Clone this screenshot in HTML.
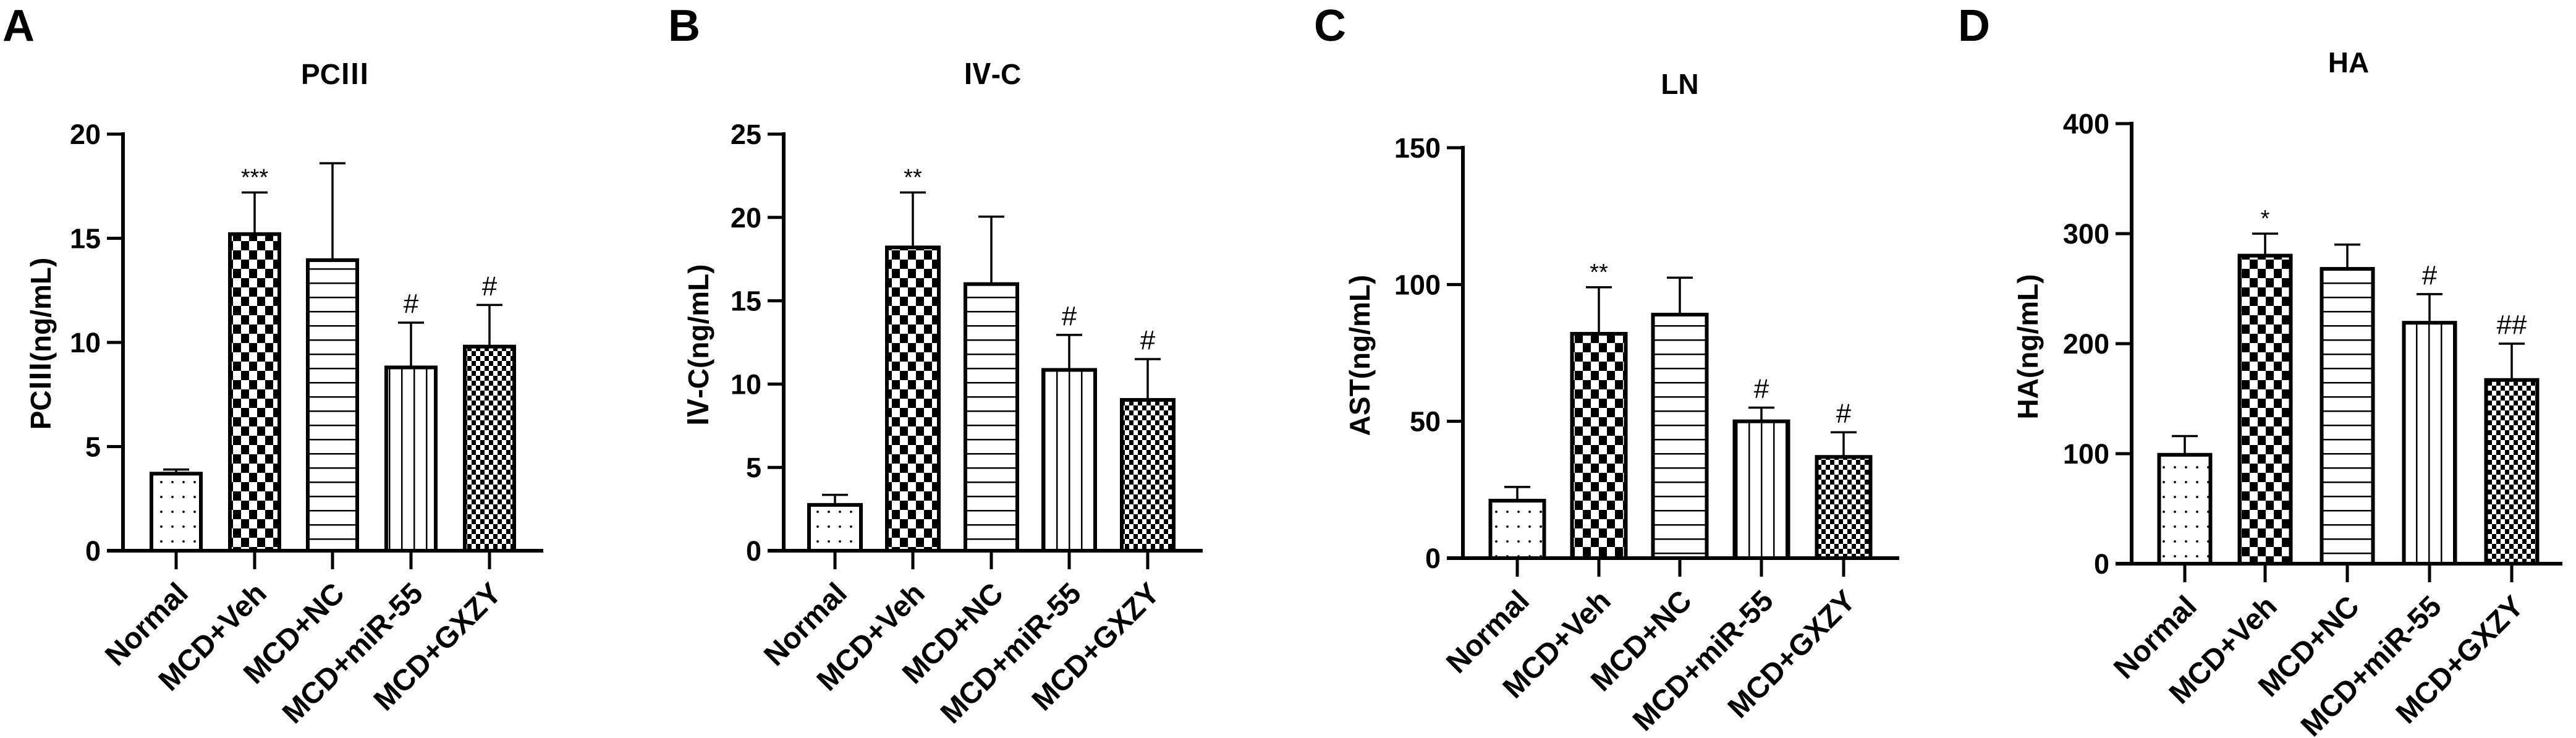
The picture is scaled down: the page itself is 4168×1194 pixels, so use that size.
<!DOCTYPE html>
<html><head><meta charset="utf-8">
<style>
html,body{margin:0;padding:0;background:#fff;}
svg{display:block;}
text{font-family:"Liberation Sans","Noto Sans CJK SC",sans-serif;}
</style></head>
<body>
<svg id="fig" width="4168" height="1194" viewBox="0 0 4168 1194" xmlns="http://www.w3.org/2000/svg">
<defs>
<pattern id="p-dots" width="18" height="24" patternUnits="userSpaceOnUse"><rect width="18" height="24" fill="#fff"/><circle cx="9" cy="12" r="1.9" fill="#000"/></pattern>
<pattern id="p-check" width="26" height="30" patternUnits="userSpaceOnUse"><rect width="26" height="30" fill="#fff"/><rect width="13" height="15" fill="#000"/><rect x="13" y="15" width="13" height="15" fill="#000"/></pattern>
<pattern id="p-hline" width="20" height="23" patternUnits="userSpaceOnUse"><rect width="20" height="23" fill="#fff"/><rect y="20" width="20" height="2.5" fill="#000"/></pattern>
<pattern id="p-vline" width="20" height="20" patternUnits="userSpaceOnUse"><rect width="20" height="20" fill="#fff"/><rect x="9" width="2.5" height="20" fill="#000"/></pattern>
<pattern id="p-fine" width="14" height="16" patternUnits="userSpaceOnUse"><rect width="14" height="16" fill="#fff"/><rect width="7" height="8" fill="#000"/><rect x="7" y="8" width="7" height="8" fill="#000"/></pattern>
</defs>
</svg>
<script>
const categories = ["Normal","MCD+Veh","MCD+NC","MCD+miR-55","MCD+GXZY"];
const aMeans = [3.7,15.2,13.95,8.8,9.8];
const aErrTop = [3.9,17.2,18.6,10.95,11.8];
const aSig = ["","***","","#","#"];
const aTicks = [0,5,10,15,20];
const bMeans = [2.75,18.2,16,10.85,9.05];
const bErrTop = [3.35,21.5,20.05,12.95,11.5];
const bSig = ["","**","","#","#"];
const bTicks = [0,5,10,15,20,25];
const cMeans = [21,82,89,50,37];
const cErrTop = [26,99,102.5,55,46];
const cSig = ["","**","","#","#"];
const cTicks = [0,50,100,150];
const dMeans = [99,280,268,219,167];
const dErrTop = [116,300,290,245,200];
const dSig = ["","*","","#","##"];
const dTicks = [0,100,200,300,400];

const patterns = ["url(#p-dots)","url(#p-check)","url(#p-hline)","url(#p-vline)","url(#p-fine)"];
const svg = document.getElementById('fig');
const NS = "http://www.w3.org/2000/svg";
function mk(tag, attrs, txt){
  const e = document.createElementNS(NS, tag);
  for (const k in attrs) e.setAttribute(k, attrs[k]);
  if (txt !== undefined) e.textContent = txt;
  svg.appendChild(e);
  return e;
}

const panels = [
  {id:'a', letter:'A', lx:4, title:'PCⅢ', tx:542, ty:136, ylabel:'PCⅢ(ng/mL)', ylx:70, yly:556,
   ax:199, y0:891, yTop:217, xEnd:879, centers:[285,412,538,665,792], bw:80,
   means:aMeans, err:aErrTop, sig:aSig, ticks:aTicks},
  {id:'b', letter:'B', lx:1081, title:'Ⅳ-C', tx:1605, ty:136, ylabel:'Ⅳ-C(ng/mL)', ylx:1134, yly:559,
   ax:1268, y0:891, yTop:217, xEnd:1946, centers:[1351,1477,1604,1730,1857], bw:84,
   means:bMeans, err:bErrTop, sig:bSig, ticks:bTicks},
  {id:'c', letter:'C', lx:2126, title:'LN', tx:2718, ty:152, ylabel:'AST(ng/mL)', ylx:2204, yly:575,
   ax:2367, y0:903, yTop:239, xEnd:3073, centers:[2455,2587,2718,2850,2983], bw:87,
   means:cMeans, err:cErrTop, sig:cSig, ticks:cTicks},
  {id:'d', letter:'D', lx:3168, title:'HA', tx:3800, ty:117, ylabel:'HA(ng/mL)', ylx:3285, yly:561,
   ax:3449, y0:912, yTop:200, xEnd:4146, centers:[3535,3665,3798,3931,4064], bw:83,
   means:dMeans, err:dErrTop, sig:dSig, ticks:dTicks}
];

panels.forEach(p => {
  const tmax = p.ticks[p.ticks.length-1];
  const ys = v => p.y0 - (v / tmax) * (p.y0 - p.yTop);
  let e;
  e = mk('text', {x:p.lx, y:66, 'font-size':72, 'font-weight':'bold', fill:'#000'}, p.letter);
  
  
  e = mk('text', {x:p.tx, y:p.ty, 'font-size':46, 'font-weight':'bold', 'text-anchor':'middle', fill:'#000'}, p.title);
  
  
  e = mk('text', {x:0, y:0, 'font-size':46, 'font-weight':'bold', 'text-anchor':'middle', 'dominant-baseline':'middle', fill:'#000', transform:`translate(${p.ylx},${p.yly}) rotate(-90)`}, p.ylabel);
  
  

  p.means.forEach((v, i) => {
    const cx = p.centers[i];
    const top = ys(v);
    const et = ys(p.err[i]);
    let l = mk('line', {x1:cx, y1:top, x2:cx, y2:et, stroke:'#000', 'stroke-width':3.5});
    
    
    l = mk('line', {x1:cx-21, y1:et, x2:cx+21, y2:et, stroke:'#000', 'stroke-width':3.5});
    
    
    const r = mk('rect', {x:cx - p.bw/2, y:top, width:p.bw, height:p.y0 - top, fill:patterns[i], stroke:'#000', 'stroke-width':6});
    
    
    if (p.sig[i]) {
      const star = p.sig[i][0] === '*';
      const s = mk('text', {x:cx, y:et - (star ? 12 : 16), 'font-size':star ? 38 : 44, 'text-anchor':'middle', fill:'#000'}, p.sig[i]);
      
      
    }
    const tk = mk('line', {x1:cx, y1:p.y0, x2:cx, y2:p.y0+30, stroke:'#000', 'stroke-width':5});
    
    
    const lab = mk('text', {x:0, y:0, 'font-size':48, 'font-weight':'bold', 'text-anchor':'end', fill:'#000', transform:`translate(${cx+22},${p.y0+72}) rotate(-45)`}, categories[i]);
    
    
  });

  e = mk('line', {x1:p.ax, y1:p.yTop-3, x2:p.ax, y2:p.y0+3, stroke:'#000', 'stroke-width':6});
  
  
  e = mk('line', {x1:p.ax-26, y1:p.y0, x2:p.xEnd, y2:p.y0, stroke:'#000', 'stroke-width':6});
  
  
  p.ticks.forEach(t => {
    const y = ys(t);
    const tl = mk('line', {x1:p.ax-26, y1:y, x2:p.ax, y2:y, stroke:'#000', 'stroke-width':5});
    
    
    const tt = mk('text', {x:p.ax-36, y:y+16, 'font-size':45, 'font-weight':'bold', 'text-anchor':'end', fill:'#000'}, String(t));
    
    
  });
});
</script>
</body></html>
